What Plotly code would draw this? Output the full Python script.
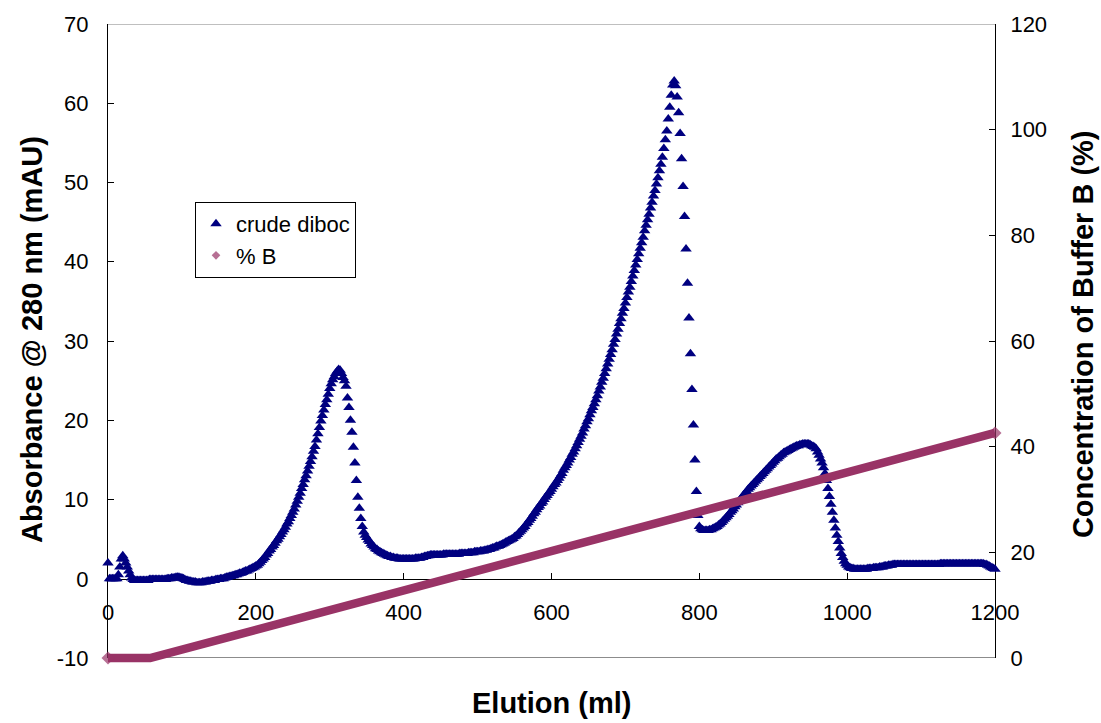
import plotly.graph_objects as go

# UV trace of the crude diboc run, one reading every 2 ml of elution
elution_step_ml = 2
absorbance_mAU = [
    2.0, 0.0, 0.0, 0.0, 0.0, 0.0, 0.0, 0.5, 1.5, 2.5,
    2.9, 2.5, 2.0, 1.5, 1.0, 0.5, 0.1, -0.1, -0.2, -0.2,
    -0.2, -0.2, -0.2, -0.2, -0.2, -0.2, -0.2, -0.2, -0.1, -0.1,
    -0.1, -0.1, -0.1, -0.1, -0.1, -0.1, -0.1, -0.1, -0.1, -0.1,
    0.0, 0.0, 0.0, 0.1, 0.1, 0.1, 0.2, 0.2, 0.2, 0.1,
    0.1, 0.0, -0.1, -0.2, -0.2, -0.3, -0.3, -0.4, -0.4, -0.4,
    -0.5, -0.5, -0.5, -0.5, -0.4, -0.4, -0.4, -0.3, -0.3, -0.3,
    -0.2, -0.2, -0.2, -0.1, -0.1, -0.1, 0.0, 0.0, 0.0, 0.1,
    0.2, 0.2, 0.3, 0.3, 0.4, 0.4, 0.5, 0.5, 0.6, 0.7,
    0.7, 0.8, 0.9, 1.0, 1.0, 1.1, 1.2, 1.3, 1.4, 1.5,
    1.6, 1.7, 1.9, 2.1, 2.3, 2.5, 2.7, 3.0, 3.2, 3.5,
    3.7, 4.0, 4.2, 4.5, 4.8, 5.0, 5.3, 5.6, 5.9, 6.2,
    6.5, 6.9, 7.2, 7.6, 8.0, 8.4, 8.8, 9.3, 9.8, 10.3,
    10.8, 11.4, 11.9, 12.5, 13.0, 13.6, 14.2, 14.8, 15.4, 16.1,
    16.7, 17.5, 18.3, 19.1, 19.9, 20.6, 21.3, 22.0, 22.6, 23.3,
    24.0, 24.6, 25.1, 25.5, 25.9, 26.2, 26.4, 26.3, 25.9, 25.4,
    25.0, 24.3, 22.8, 21.6, 20.0, 18.5, 16.6, 14.6, 12.4, 10.3,
    8.9, 7.6, 6.6, 5.9, 5.5, 5.2, 4.9, 4.7, 4.4, 4.2,
    4.0, 3.8, 3.7, 3.5, 3.4, 3.3, 3.2, 3.1, 3.0, 2.9,
    2.8, 2.8, 2.7, 2.7, 2.6, 2.6, 2.6, 2.5, 2.5, 2.5,
    2.5, 2.5, 2.5, 2.5, 2.5, 2.5, 2.5, 2.5, 2.6, 2.6,
    2.6, 2.6, 2.7, 2.7, 2.8, 2.8, 2.9, 2.9, 3.0, 3.0,
    3.0, 3.0, 3.0, 3.0, 3.0, 3.0, 3.0, 3.1, 3.1, 3.1,
    3.1, 3.1, 3.1, 3.1, 3.1, 3.1, 3.1, 3.1, 3.2, 3.2,
    3.2, 3.2, 3.2, 3.2, 3.3, 3.3, 3.3, 3.3, 3.4, 3.4,
    3.4, 3.4, 3.5, 3.5, 3.5, 3.6, 3.6, 3.7, 3.7, 3.8,
    3.9, 3.9, 4.0, 4.1, 4.1, 4.2, 4.3, 4.4, 4.5, 4.6,
    4.7, 4.8, 4.9, 5.0, 5.1, 5.3, 5.4, 5.6, 5.8, 6.0,
    6.2, 6.4, 6.6, 6.9, 7.1, 7.4, 7.6, 7.9, 8.2, 8.4,
    8.7, 9.0, 9.2, 9.5, 9.7, 10.0, 10.3, 10.5, 10.8, 11.0,
    11.3, 11.6, 11.9, 12.1, 12.4, 12.7, 13.0, 13.3, 13.7, 14.0,
    14.3, 14.6, 15.0, 15.3, 15.7, 16.0, 16.4, 16.8, 17.2, 17.6,
    18.0, 18.4, 18.9, 19.3, 19.8, 20.2, 20.7, 21.2, 21.6, 22.1,
    22.6, 23.1, 23.7, 24.2, 24.8, 25.3, 25.9, 26.5, 27.1, 27.7,
    28.3, 28.9, 29.6, 30.2, 30.9, 31.5, 32.2, 32.8, 33.5, 34.1,
    34.8, 35.5, 36.2, 36.8, 37.5, 38.2, 38.9, 39.6, 40.3, 41.0,
    41.7, 42.4, 43.1, 43.9, 44.6, 45.3, 46.0, 46.8, 47.5, 48.3,
    49.0, 49.8, 50.6, 51.5, 52.3, 53.2, 54.3, 55.4, 56.5, 58.0,
    59.5, 61.0, 62.3, 62.8, 62.2, 60.8, 58.8, 56.2, 53.0, 49.5,
    45.7, 41.6, 37.3, 32.9, 28.4, 23.9, 19.4, 15.0, 11.0, 8.0,
    6.6, 6.3, 6.2, 6.1, 6.1, 6.1, 6.1, 6.2, 6.2, 6.3,
    6.4, 6.5, 6.6, 6.8, 6.9, 7.1, 7.3, 7.5, 7.7, 7.9,
    8.1, 8.4, 8.6, 8.8, 9.1, 9.3, 9.6, 9.8, 10.1, 10.3,
    10.6, 10.8, 11.0, 11.3, 11.5, 11.7, 11.9, 12.1, 12.3, 12.5,
    12.7, 12.9, 13.1, 13.3, 13.5, 13.7, 13.9, 14.1, 14.3, 14.5,
    14.7, 14.9, 15.1, 15.2, 15.4, 15.6, 15.7, 15.9, 16.0, 16.1,
    16.2, 16.3, 16.4, 16.5, 16.6, 16.7, 16.8, 16.8, 16.9, 16.9,
    17.0, 17.0, 17.0, 17.0, 17.0, 16.9, 16.8, 16.7, 16.6, 16.4,
    16.0, 15.6, 15.1, 14.6, 14.0, 13.3, 12.4, 11.4, 10.4, 9.4,
    8.4, 7.4, 6.4, 5.5, 4.7, 3.9, 3.2, 2.7, 2.2, 1.9,
    1.7, 1.5, 1.4, 1.3, 1.3, 1.2, 1.2, 1.2, 1.2, 1.2,
    1.2, 1.2, 1.2, 1.2, 1.3, 1.3, 1.3, 1.3, 1.4, 1.4,
    1.4, 1.4, 1.5, 1.5, 1.5, 1.6, 1.6, 1.6, 1.7, 1.7,
    1.7, 1.8, 1.8, 1.8, 1.8, 1.8, 1.8, 1.8, 1.8, 1.8,
    1.8, 1.8, 1.8, 1.8, 1.8, 1.8, 1.8, 1.8, 1.8, 1.8,
    1.8, 1.8, 1.8, 1.8, 1.8, 1.8, 1.8, 1.8, 1.8, 1.8,
    1.8, 1.8, 1.8, 1.9, 1.9, 1.9, 1.9, 1.9, 1.9, 1.9,
    1.9, 1.9, 1.9, 1.9, 1.9, 1.9, 1.9, 1.9, 1.9, 1.9,
    1.9, 1.9, 1.9, 1.9, 1.9, 1.9, 1.9, 1.9, 1.9, 1.9,
    1.9, 1.9, 1.9, 1.8, 1.8, 1.7, 1.6, 1.5, 1.4, 1.3,
    1.2,
]
elution_ml = [i * elution_step_ml for i in range(len(absorbance_mAU))]

# Buffer B gradient programme: hold, then linear ramp
gradient_ml = [0, 57, 1200]
gradient_pct_b = [0, 0, 42.6]

x_ticks = [0, 200, 400, 600, 800, 1000, 1200]
y_left_ticks = [-10, 0, 10, 20, 30, 40, 50, 60, 70]
y_right_ticks = [0, 20, 40, 60, 80, 100, 120]

FONT = "Liberation Sans, Arial, sans-serif"
NAVY = "#000080"
PLUM = "#993366"

W, H = 1101, 723
ML, MR, MT, MB = 108, 106, 20, 55
PLOT_W = W - ML - MR
PLOT_H = H - MT - MB
PAD = 10                                  # room under the frame for the gradient band
main_dom = [PAD / PLOT_H, 1]
b_pad_units = PAD * 120 / (PLOT_H - PAD)  # same scale as the right axis

fig = go.Figure()

fig.add_trace(go.Scatter(
    x=elution_ml, y=absorbance_mAU, mode="markers", name="crude diboc",
    marker=dict(symbol="triangle-up", size=10, color=NAVY, line=dict(width=0)),
    cliponaxis=False,
))
fig.add_trace(go.Scatter(
    x=gradient_ml, y=gradient_pct_b, xaxis="x", yaxis="y3", mode="lines",
    line=dict(color=PLUM, width=8.5), showlegend=False, legendgroup="b",
    hoverinfo="skip",
))
fig.add_trace(go.Scatter(
    x=gradient_ml, y=gradient_pct_b, xaxis="x", yaxis="y3", mode="markers",
    name="% B", legendgroup="b",
    marker=dict(symbol="diamond", size=[10, 0, 10], color=PLUM, line=dict(width=0)),
    cliponaxis=False,
))
# empty trace so the right-hand axis is drawn
fig.add_trace(go.Scatter(x=[None], y=[None], yaxis="y2", showlegend=False,
                         hoverinfo="skip"))

tick_font = dict(family=FONT, size=22, color="black")

fig.update_layout(
    width=W, height=H,
    margin=dict(l=ML, r=MR, t=MT, b=MB, pad=0),
    paper_bgcolor="white", plot_bgcolor="rgba(0,0,0,0)",
    showlegend=True,
    legend=dict(
        x=(195 - ML) / PLOT_W, y=(H - MB - 199) / PLOT_H,
        xanchor="left", yanchor="top",
        bgcolor="white", bordercolor="black", borderwidth=1,
        font=dict(family=FONT, size=22, color="black"),
        itemwidth=30, tracegroupgap=0,
    ),
    xaxis=dict(
        range=[0, 1200], tickvals=x_ticks, ticktext=[str(v) for v in x_ticks],
        anchor="free", position=(H - MB - 578) / PLOT_H,
        showline=True, linecolor="black", linewidth=1,
        ticks="inside", ticklen=6, tickcolor="black",
        ticklabelstandoff=14,
        showgrid=False, zeroline=False, tickfont=tick_font,
        layer="below traces",
    ),
    yaxis=dict(
        range=[-10, 70], tickvals=y_left_ticks,
        ticktext=[str(v) for v in y_left_ticks], domain=main_dom,
        showline=True, linecolor="black", linewidth=1,
        ticks="inside", ticklen=6, tickcolor="black",
        ticklabelstandoff=14,
        showgrid=False, zeroline=False, tickfont=tick_font,
        layer="below traces",
    ),
    yaxis2=dict(
        range=[0, 120], tickvals=y_right_ticks,
        ticktext=[str(v) for v in y_right_ticks], overlaying="y", side="right",
        showline=True, linecolor="black", linewidth=1,
        ticks="inside", ticklen=6, tickcolor="black",
        ticklabelstandoff=10,
        showgrid=False, zeroline=False, tickfont=tick_font,
        layer="below traces",
    ),
    yaxis3=dict(
        range=[-b_pad_units, 120], domain=[0, 1], anchor="x",
        visible=False, showgrid=False, zeroline=False,
    ),
    shapes=[
        dict(type="line", xref="paper", yref="y", x0=0, x1=1, y0=-10, y1=-10,
             line=dict(color="black", width=1), layer="below"),
        dict(type="line", xref="paper", yref="y", x0=0, x1=1, y0=70, y1=70,
             line=dict(color="#808080", width=1), layer="below"),
    ],
    annotations=[
        dict(text="<b>Elution (ml)</b>", xref="paper", yref="paper",
             x=0.5, y=(H - MB - 703) / PLOT_H, xanchor="center", yanchor="middle",
             showarrow=False, font=dict(family=FONT, size=29, color="black")),
        dict(text="<b>Absorbance @ 280 nm (mAU)</b>", xref="paper", yref="paper",
             x=(32 - ML) / PLOT_W, y=(H - MB - 338) / PLOT_H,
             xanchor="center", yanchor="middle", textangle=-90,
             showarrow=False, font=dict(family=FONT, size=29, color="black")),
        dict(text="<b>Concentration of Buffer B (%)</b>", xref="paper", yref="paper",
             x=(1083 - ML) / PLOT_W, y=(H - MB - 332) / PLOT_H,
             xanchor="center", yanchor="middle", textangle=-90,
             showarrow=False, font=dict(family=FONT, size=29, color="black")),
    ],
)

fig.write_html("out.html")
